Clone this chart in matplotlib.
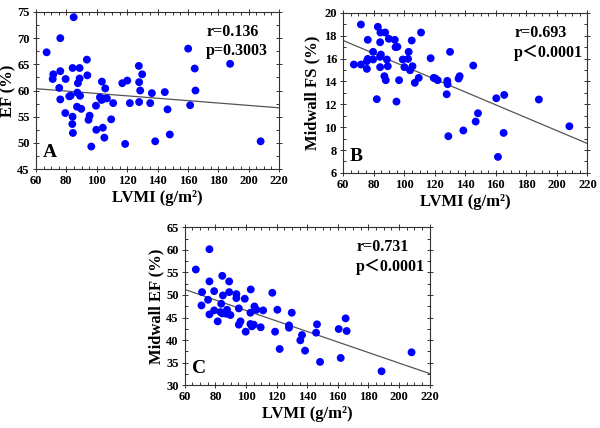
import matplotlib
matplotlib.use("Agg")
import matplotlib.pyplot as plt
from matplotlib.ticker import MultipleLocator

plt.rcParams['font.family'] = ['Liberation Serif', 'Noto Sans CJK SC', 'DejaVu Sans']
plt.rcParams['font.weight'] = 'bold'

# ---------------- Panel A: EF vs LVMI ----------------
a_x = [67.0, 76.0, 84.8, 71.4, 71.0, 76.0, 79.5, 75.3, 76.0, 79.3, 81.9, 82.8,
       84.1, 84.1, 83.9, 84.3, 88.7, 88.7, 87.6, 87.2, 89.0, 87.0, 89.8, 93.5,
       93.8, 95.3, 94.6, 96.4, 99.7, 99.5, 103.4, 102.1, 103.2, 104.3, 105.6,
       106.7, 104.0, 105.0, 109.5, 110.8, 116.8, 120.1, 121.8, 118.7, 127.7,
       127.9, 128.6, 127.9, 129.9, 135.2, 136.3, 138.5, 144.8, 146.6, 148.1,
       160.2, 161.5, 164.5, 165.0, 187.8, 207.9]
a_y = [67.3, 70.0, 74.0, 63.1, 62.2, 63.7, 62.2, 60.5, 58.3, 55.7, 58.9, 59.0,
       64.3, 55.0, 53.6, 51.9, 64.3, 62.3, 61.4, 59.6, 59.0, 56.9, 56.5, 65.9,
       62.9, 55.2, 54.4, 49.3, 52.5, 57.1, 61.7, 58.7, 58.2, 58.4, 60.4,
       58.5, 52.9, 51.0, 54.5, 57.6, 61.4, 61.9, 57.6, 49.8, 64.7,
       61.6, 60.0, 57.8, 63.1, 57.6, 59.5, 50.3, 59.7, 56.4, 51.6,
       68.0, 57.2, 64.2, 60.0, 65.1, 50.3]
a_fit = (60.35, -0.0228)   # value at LVMI=60, slope
a_text = ["r=0.136", "p=0.3003"]

# ---------------- Panel B: Midwall FS vs LVMI ----------------
b_x = [71.6, 82.7, 84.4, 87.5, 111.0, 76.1, 89.9, 93.8, 84.2, 104.9, 94.3, 95.5,
       79.6, 102.9, 130.0, 84.7, 84.1, 67.0, 71.6, 75.5, 76.1, 79.6, 88.6, 89.2,
       84.2, 75.5, 99.0, 102.5, 100.1, 105.4, 103.8, 87.0, 87.9, 96.6, 106.9,
       109.5, 117.3, 119.3, 120.4, 121.9, 128.2, 128.4, 136.3, 135.6, 145.2,
       82.0, 94.9, 127.8, 160.3, 165.5, 188.2, 148.3, 146.8, 138.7, 128.9,
       165.1, 208.2, 161.4]
b_y = [18.98, 18.78, 18.28, 18.28, 18.28, 17.64, 17.73, 17.64, 17.43, 17.58, 17.0, 17.03,
       16.59, 16.59, 16.59, 16.35, 16.15, 15.48, 15.48, 15.77, 15.97, 15.92, 15.92, 15.33,
       15.25, 15.1, 15.92, 15.97, 15.25, 15.33, 14.98, 14.46, 14.11, 14.11, 13.88,
       14.31, 16.03, 14.31, 14.25, 14.11, 14.05, 13.76, 14.46, 14.25, 15.39,
       12.45, 12.24, 12.88, 12.53, 12.82, 12.42, 11.22, 10.49, 9.71, 9.21,
       9.50, 10.08, 7.40]
b_fit = (17.58, -0.0563)
b_text = ["r=0.693", "p\uff1c0.0001"]

# ---------------- Panel C: Midwall EF vs LVMI ----------------
c_x = [67.2, 76.1, 76.1, 71.3, 70.9, 75.2, 76.1, 79.2, 79.2, 81.5, 84.5, 84.9,
       83.8, 83.3, 84.5, 87.6, 89.0, 89.0, 87.0, 89.8, 93.7, 93.7, 95.3, 96.4,
       95.3, 99.2, 99.8, 103.1, 102.9, 102.9, 103.8, 105.1, 105.5, 106.8, 109.6,
       111.2, 117.2, 119.0, 120.5, 122.0, 128.1, 128.1, 129.9, 136.6, 135.5,
       138.6, 146.4, 145.8, 148.4, 160.6, 161.9, 165.1, 165.8, 188.6, 208.2]
c_y = [55.64, 60.14, 53.0, 50.63, 47.68, 48.93, 45.69, 50.85, 46.58, 44.15, 54.24, 49.89,
       48.05, 46.21, 45.91, 46.72, 53.0, 50.63, 45.84, 45.55, 50.19, 49.3, 47.02, 44.15,
       43.41, 49.16, 41.86, 51.22, 46.06, 43.56, 43.04, 43.41, 47.46, 46.72, 42.84,
       46.58, 50.48, 41.86, 46.72, 38.03, 43.26, 42.74, 46.06, 41.12, 39.94,
       37.66, 43.49, 41.64, 35.16, 42.45, 36.04, 44.81, 42.01, 33.09, 37.29]
c_fit = (51.22, -0.1165)
c_text = ["r=0.731", "p\uff1c0.0001"]

xlabel = "LVMI (g/m\u00b2)"

fig = plt.figure(figsize=(6.0, 4.28), dpi=100)

panels = [
    dict(rect=[0.060, 0.605, 0.405, 0.367], x=a_x, y=a_y, fit=a_fit, text=a_text,
         letter="A", ylabel="EF (%)", ylim=(45, 75), ymaj=5, ymin=2.5, ylx=-0.082),
    dict(rect=[0.572, 0.596, 0.407, 0.374], x=b_x, y=b_y, fit=b_fit, text=b_text,
         letter="B", ylabel="Midwall FS (%)", ylim=(6, 20), ymaj=2, ymin=1, ylx=-0.095),
    dict(rect=[0.308, 0.100, 0.408, 0.369], x=c_x, y=c_y, fit=c_fit, text=c_text,
         letter="C", ylabel="Midwall EF (%)", ylim=(30, 65), ymaj=5, ymin=2.5, ylx=-0.085),
]

for p in panels:
    ax = fig.add_axes(p["rect"])
    ax.scatter(p["x"], p["y"], s=32, color="#0000ff", edgecolors="none", zorder=3)
    y0, slope = p["fit"]
    xs = [60, 220]
    ax.plot(xs, [y0 + slope * (v - 60) for v in xs], color="#555555", lw=0.9, zorder=2)
    ax.set_xlim(60, 220)
    ax.set_ylim(*p["ylim"])
    ax.xaxis.set_major_locator(MultipleLocator(20))
    ax.xaxis.set_minor_locator(MultipleLocator(5))
    ax.yaxis.set_major_locator(MultipleLocator(p["ymaj"]))
    ax.yaxis.set_minor_locator(MultipleLocator(p["ymin"]))
    ax.tick_params(which="both", top=True, right=True, width=0.7, colors="#333333",
                   labelcolor="black")
    ax.tick_params(which="major", direction="inout", length=5, labelsize=9, pad=2)
    ax.tick_params(which="minor", direction="in", length=2.5)
    for lab in ax.get_xticklabels() + ax.get_yticklabels():
        lab.set_fontweight("bold")
    for s in ax.spines.values():
        s.set_linewidth(0.8)
        s.set_color("#333333")
    ax.set_xlabel(xlabel, fontsize=12, fontweight="bold", labelpad=2)
    ax.set_ylabel(p["ylabel"], fontsize=12, fontweight="bold")
    ax.yaxis.set_label_coords(p["ylx"], 0.5)
    ax.text(0.70, 0.925, p["text"][0], transform=ax.transAxes, fontsize=11.5,
            fontweight="bold", va="top", ha="left")
    ax.text(0.70, 0.80, p["text"][1], transform=ax.transAxes, fontsize=11.5,
            fontweight="bold", va="top", ha="left")
    ax.text(0.028, 0.05, p["letter"], transform=ax.transAxes, fontsize=14,
            fontweight="bold", va="bottom", ha="left")

fig.savefig("out.png", dpi=100)
